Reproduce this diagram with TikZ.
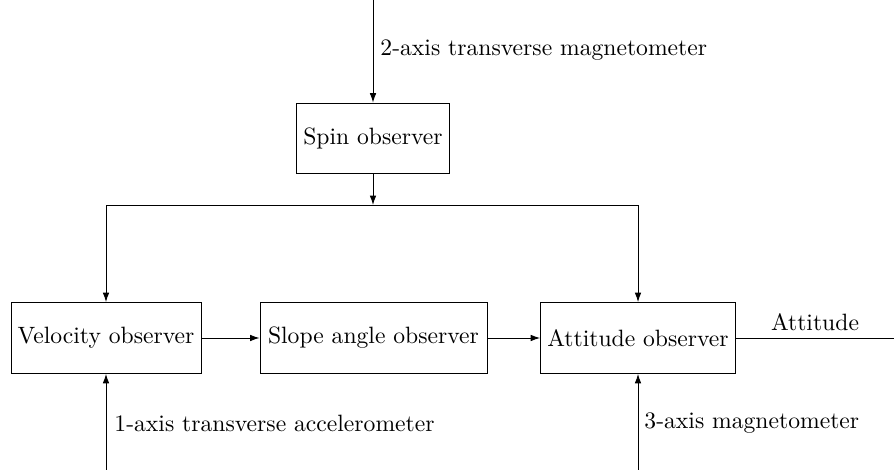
\documentclass[tikz,border=0pt]{standalone}
\usetikzlibrary{arrows.meta}
\begin{document}
\begin{tikzpicture}[x=0.4233pt,y=-0.4233pt,
  blk/.style={draw,line width=0.4pt,minimum height=30pt,inner sep=0pt},
  con/.style={line width=0.4pt,-{Latex[length=4pt,width=2.8pt]}},
  lbl/.style={inner sep=0pt}]
\useasboundingbox (0,0) rectangle (894,470);
\node[blk,minimum width=64.8pt] (spin) at (373,138.5) {Spin observer};
\node[blk,minimum width=80.4pt] (vel) at (106,338) {Velocity observer};
\node[blk,minimum width=96.1pt] (slope) at (373.5,338) {Slope angle observer};
\node[blk,minimum width=82.5pt] (att) at (638,338) {Attitude observer};
\coordinate (top) at (373,0);
\coordinate (j) at (373,205);
\coordinate (bl) at (106,470);
\coordinate (br) at (638,470);
\coordinate (out) at (894,338);
\draw[con] (top) -- (spin.north);
\draw[con] (spin.south) -- (j);
\draw[con] (j) -| (vel.north);
\draw[con] (j) -| (att.north);
\draw[con] (vel) -- (slope);
\draw[con] (slope) -- (att);
\draw[con] (bl) -- (vel.south);
\draw[con] (br) -- (att.south);
\draw[line width=0.4pt] (att.east) -- (out);
\node[lbl,anchor=west] (l2) at (380,50) {2-axis transverse magnetometer};
\node[lbl,anchor=west] (l1) at (114,423) {1-axis transverse accelerometer};
\node[lbl,anchor=west] (l3) at (644,423) {3-axis magnetometer};
\node[lbl] (la) at (815,322) {Attitude};
\end{tikzpicture}
\end{document}
